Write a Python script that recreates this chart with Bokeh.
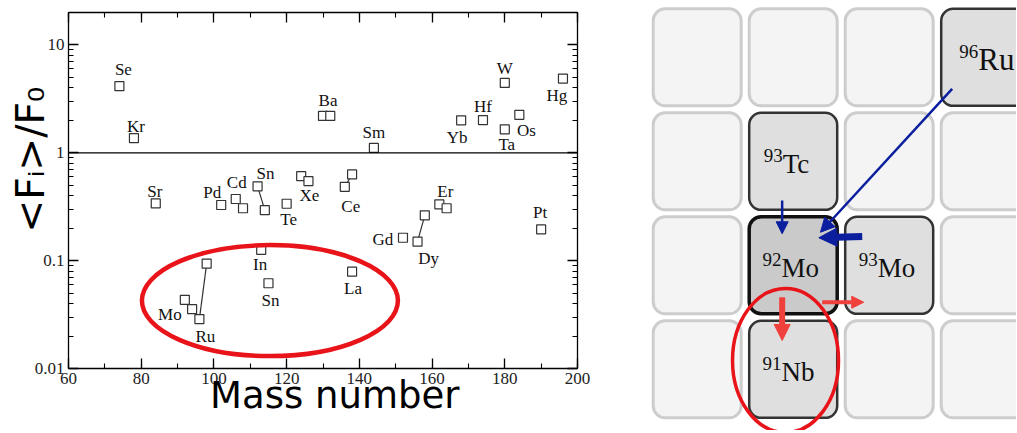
import math
from bokeh.plotting import figure
from bokeh.layouts import row
from bokeh.models import (Range1d, FixedTicker, LinearAxis, LogAxis, Span,
                          Arrow, NormalHead, ColumnDataSource)
from bokeh.core.properties import value
from bokeh.embed import file_html
from bokeh.resources import INLINE

# ---------------- data: left panel (mass number vs <Fi>/F0) ----------------
mass = [74, 78, 84, 102, 106, 108, 112, 114, 120, 124, 126, 130, 132, 136, 138,
        144, 168, 174, 180, 180, 184, 196, 162, 164, 190, 152, 156, 158, 138,
        113, 115, 92, 94, 96, 98]
ratio = [4.15, 1.37, 0.34, 0.328, 0.373, 0.306, 0.489, 0.294, 0.337, 0.608, 0.547,
         2.2, 2.2, 0.484, 0.631, 1.11, 2.0, 2.01, 4.45, 1.65, 2.25, 4.88, 0.333,
         0.306, 0.195, 0.163, 0.15, 0.263, 0.079, 0.126, 0.0617, 0.0433, 0.0355,
         0.0287, 0.0938]
# pairs of points joined by a line (indices into mass/ratio)
links = [(6, 7), (13, 14), (26, 27), (33, 34)]

label_names = ["Se", "Kr", "Sr", "Pd", "Cd", "Sn", "Te", "Xe", "Ba", "Ce", "Sm",
               "Yb", "Hf", "W", "Ta", "Os", "Hg", "Er", "Pt", "Gd", "Dy", "La",
               "In", "Sn", "Mo", "Ru"]
label_point = [0, 1, 2, 3, 4, 6, 8, 10, 11, 13, 15, 16, 17, 18, 19, 20, 21, 22,
               24, 25, 26, 28, 29, 30, 31, 33]

x_ticks = [60, 80, 100, 120, 140, 160, 180, 200]
y_ticks = [0.01, 0.1, 1, 10]
y_tick_labels = ["0.01", "0.1", "1", "10"]
x_title = "Mass number"
y_title = "<Fᵢ>/F₀"

# ---------------- data: right panel (chart of nuclides) ----------------
grid_cols = [0, 1, 2, 3]
grid_rows = [0, 1, 2, 3]
nuc_A = ["96", "93", "92", "93", "91"]
nuc_sym = ["Ru", "Tc", "Mo", "Mo", "Nb"]
nuc_col = [3, 1, 1, 2, 1]
nuc_row = [0, 1, 2, 2, 3]

# ---------------- layout / style (not data) ----------------
label_offsets = [(4, -17), (2, -12), (-1, -12), (-9, -13), (1, -16), (8, -13),
                 (2, 16), (1, 14), (5, -15), (6, 20), (0, -15), (-4, 17), (0, -14),
                 (0, -14), (2, 15), (7, 16), (-6, 17), (6, -13), (-1, -17),
                 (-20, 2), (11, 17), (1, 17), (-1, 15), (2, 17), (-15, 15), (6, 17)]

SERIF = "Liberation Serif"
SANS = "DejaVu Sans"
H = 430

p = figure(width=600, height=H, x_range=Range1d(60, 200), y_range=Range1d(0.01, 20),
           y_axis_type="log", output_backend="svg", toolbar_location=None,
           min_border_left=68, min_border_top=12, min_border_right=23,
           min_border_bottom=H - 368)
p.frame_align = False
p.grid.visible = False
p.outline_line_color = None
p.background_fill_color = "white"

xt = FixedTicker(ticks=x_ticks, minor_ticks=list(range(60, 201, 10)))
minor_y = [m * 10.0 ** e for e in (-2, -1, 0, 1) for m in range(2, 10) if m * 10.0 ** e <= 20]
yt = FixedTicker(ticks=y_ticks, minor_ticks=minor_y)

top_ax = LinearAxis(ticker=xt)
right_ax = LogAxis(ticker=yt)
p.add_layout(top_ax, "above")
p.add_layout(right_ax, "right")


def style_axis(ax, show_labels):
    ax.axis_line_color = "black"
    ax.axis_line_width = 1.3
    ax.major_tick_in = 10
    ax.major_tick_out = 0
    ax.minor_tick_in = 5
    ax.minor_tick_out = 0
    ax.major_tick_line_color = "black"
    ax.minor_tick_line_color = "black"
    ax.major_tick_line_width = 1.3
    ax.minor_tick_line_width = 1.1
    if show_labels:
        ax.major_label_text_font = SERIF
        ax.major_label_text_font_size = "17px"
        ax.major_label_text_color = "#222222"
        ax.major_label_standoff = 4
    else:
        ax.major_label_text_font_size = "1px"
        ax.major_label_text_color = None
        ax.major_label_standoff = 0


xa = p.below[0]
ya = p.left[0]
xa.ticker = xt
ya.ticker = yt
ya.major_label_overrides = dict(zip(y_ticks, y_tick_labels))
style_axis(xa, True)
style_axis(ya, True)
style_axis(top_ax, False)
style_axis(right_ax, False)

# axis titles (leading no-break spaces nudge a title along its axis)
xa.axis_label = "\u00a0" * 2 + x_title
xa.axis_label_text_font = SANS
xa.axis_label_text_font_size = "37px"
xa.axis_label_text_font_style = "normal"
xa.axis_label_text_color = "black"
xa.axis_label_standoff = -13
ya.axis_label = "\u00a0" * 5 + y_title
ya.axis_label_text_font = SANS
ya.axis_label_text_font_size = "39px"
ya.axis_label_text_font_style = "normal"
ya.axis_label_text_color = "black"
ya.axis_label_standoff = -21

# y = 1 reference line
p.add_layout(Span(location=1, dimension="width", line_color="black", line_width=1.3))

# links between points
p.segment(x0=[mass[a] for a, b in links], y0=[ratio[a] for a, b in links],
          x1=[mass[b] for a, b in links], y1=[ratio[b] for a, b in links],
          line_color="#333333", line_width=1.2)

# data points
p.scatter(mass, ratio, marker="square", size=9, fill_color="white",
          line_color="#333333", line_width=1.2)

# element labels
lab_src = ColumnDataSource(dict(
    x=[mass[i] for i in label_point], y=[ratio[i] for i in label_point],
    t=label_names, dx=[o[0] for o in label_offsets], dy=[o[1] for o in label_offsets]))
p.text(x="x", y="y", text="t", x_offset="dx", y_offset="dy", source=lab_src,
       text_font=value(SERIF), text_font_size="17px", text_color="#111111",
       text_align="center", text_baseline="middle")

# highlight ellipse
p.ellipse(x=[115.4], y=[0.0426], width=[256], height=[111], width_units="screen",
          height_units="screen", fill_color=None, line_color="#e8141a", line_width=4.5)

# ---------------- right panel ----------------
PX, PY = 96.0, 104.0          # cell pitch in pixels
HW, HH = 44.0 / PX, 48.5 / PY  # half cell size in cell units
q = figure(width=416, height=H,
           x_range=Range1d((600 - 696.7) / PX, (1016 - 696.7) / PX),
           y_range=Range1d((H - 56.8) / PY, (0 - 56.8) / PY),
           output_backend="svg", toolbar_location=None, min_border=0,
           x_axis_location=None, y_axis_location=None)
q.frame_align = False
q.grid.visible = False
q.outline_line_color = None

occupied = set(zip(nuc_col, nuc_row))
bc = [c for r in grid_rows for c in grid_cols if (c, r) not in occupied]
br = [r for r in grid_rows for c in grid_cols if (c, r) not in occupied]
q.quad(left=[c - HW for c in bc], right=[c + HW for c in bc],
       top=[r - HH for r in br], bottom=[r + HH for r in br],
       fill_color="#f4f4f4", line_color="#cdcdcd", line_width=3, border_radius=12)

fills = ["#dfdfdf", "#dfdfdf", "#cacaca", "#dfdfdf", "#dfdfdf"]
lines = ["#333333", "#333333", "#111111", "#333333", "#333333"]
widths = [2.5, 2.5, 3.5, 2.5, 2.5]
q.quad(left=[c - HW for c in nuc_col], right=[c + HW for c in nuc_col],
       top=[r - HH for r in nuc_row], bottom=[r + HH for r in nuc_row],
       fill_color=fills, line_color=lines, line_width=widths, border_radius=12)

join_dx = [-7, -10.5, -11.7, -11.5, -11.7]
main_size = ["31px", "27px", "27px", "27px", "27px"]
nsrc = ColumnDataSource(dict(x=nuc_col, y=nuc_row, A=nuc_A, s=nuc_sym, dx=join_dx,
                             fs=main_size))
q.text(x="x", y="y", text="A", x_offset="dx", y_offset=-5.5, source=nsrc,
       text_font=value(SERIF), text_font_size="19px", text_color="#111111",
       text_align="right", text_baseline="alphabetic")
q.text(x="x", y="y", text="s", x_offset="dx", y_offset=2.5, source=nsrc,
       text_font=value(SERIF), text_font_size="fs", text_color="#111111",
       text_align="left", text_baseline="alphabetic")

BLUE = "#0b1f9e"
RED = "#f0403c"
arrows = [((2.656, 0.303), (1.284, 1.682), BLUE, 2.5, 14),
          ((0.885, 1.378), (0.885, 1.697), BLUE, 2.5, 12),
          ((1.719, 1.723), (1.267, 1.735), BLUE, 7, 18),
          ((0.885, 2.307), (0.885, 2.723), RED, 6, 16),
          ((1.302, 2.355), (1.735, 2.355), RED, 4, 12)]
for (x0, y0), (x1, y1), col, w, hs in arrows:
    q.add_layout(Arrow(end=NormalHead(size=hs, fill_color=col, line_color=col, line_width=1),
                       x_start=x0, y_start=y0, x_end=x1, y_end=y1,
                       line_color=col, line_width=w))

q.ellipse(x=[0.92], y=[2.915], width=[106], height=[144], width_units="screen",
          height_units="screen", fill_color=None, line_color="#e8141a", line_width=3.5)

layout = row(p, q)
open("out.html", "w").write(file_html(layout, INLINE))
